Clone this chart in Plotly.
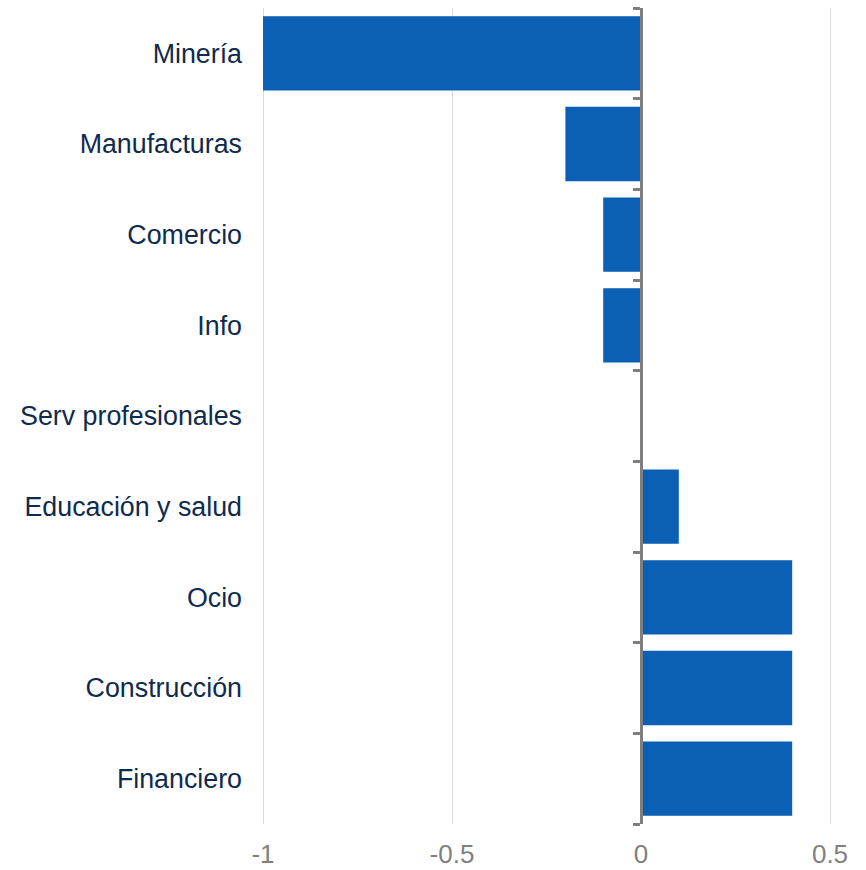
import plotly.graph_objects as go

categories = ["Minería", "Manufacturas", "Comercio", "Info", "Serv profesionales",
              "Educación y salud", "Ocio", "Construcción", "Financiero"]
values = [-1.0, -0.2, -0.1, -0.1, 0.0, 0.1, 0.4, 0.4, 0.4]
x_tickvals = [-1, -0.5, 0, 0.5]
x_ticktext = ["-1", "-0.5", "0", "0.5"]

n = len(categories)
boundaries = [i - 0.5 for i in range(n + 1)]
x_range = [-1.0053, 0.5053]
zero_pos = (0 - x_range[0]) / (x_range[1] - x_range[0])

fig = go.Figure()
fig.add_trace(go.Bar(
    y=categories, x=values, orientation="h",
    marker=dict(color="#0B5FB5", line=dict(width=0)),
    hoverinfo="x+y",
))
# invisible helper trace so the zero axis (yaxis2) is drawn
fig.add_trace(go.Scatter(x=[0], y=[0], yaxis="y2", mode="markers",
                         marker=dict(opacity=0), hoverinfo="skip", showlegend=False))

fig.update_layout(
    width=866, height=870,
    margin=dict(l=261, r=34, t=8, b=46, autoexpand=False),
    plot_bgcolor="white", paper_bgcolor="white",
    bargap=0.18, showlegend=False,
    font=dict(family="Liberation Sans, Arial, sans-serif", size=26.8),
    xaxis=dict(
        range=x_range, tickvals=x_tickvals, ticktext=x_ticktext,
        showgrid=True, gridcolor="#D9D9D9", gridwidth=1.3,
        zeroline=False, showline=False, automargin=False,
        tickfont=dict(color="#7F7F7F", size=26), ticks="", ticklabelstandoff=12,
    ),
    yaxis=dict(
        type="category", range=[n - 0.5, -0.5], automargin=False,
        showgrid=False, zeroline=False, showline=False, ticks="",
        tickfont=dict(color="#0F2A4F", size=26.8), ticklabelstandoff=18,
    ),
    yaxis2=dict(
        overlaying="y", anchor="free", position=zero_pos, side="left",
        range=[n - 0.5, -0.5], tickvals=boundaries, showticklabels=False,
        showgrid=False, zeroline=False, automargin=False,
        showline=True, linecolor="#7F7F7F", linewidth=2.5,
        ticks="outside", ticklen=7, tickwidth=2.5, tickcolor="#7F7F7F",
    ),
)

fig.write_html("out.html")
